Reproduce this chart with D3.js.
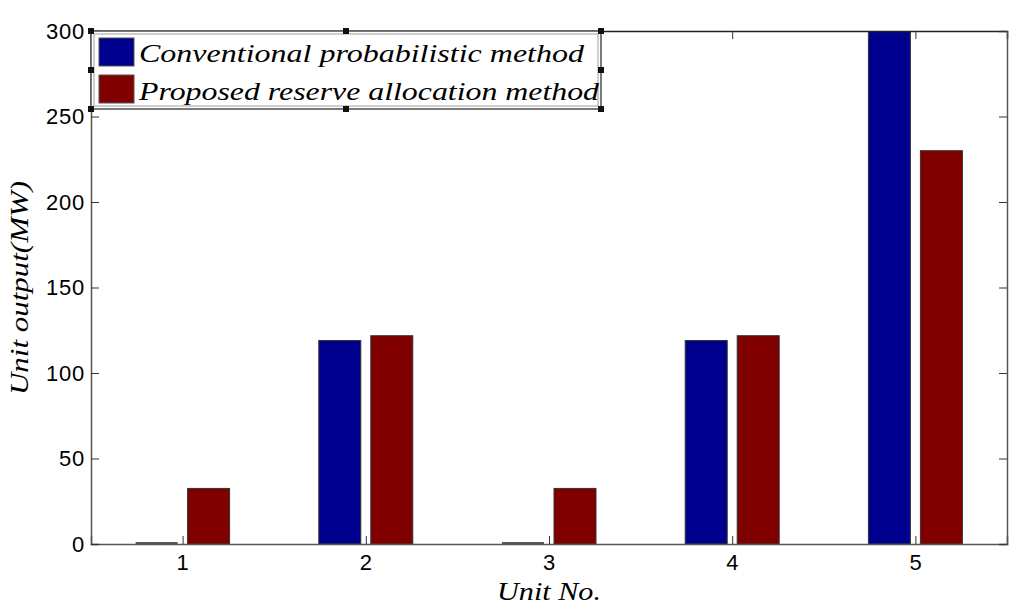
<!DOCTYPE html>
<html>
<head>
<meta charset="utf-8">
<script src="https://cdn.jsdelivr.net/npm/d3@7"></script>
<style>
  body { margin: 0; background: #fff; }
  .tick text { font-family: "Liberation Sans", Arial, sans-serif; font-size: 22px; letter-spacing: 0.8px; fill: #000; }
  .lbl { font-family: "Liberation Serif", "Times New Roman", serif; font-style: italic; font-size: 26px; fill: #000; }
</style>
</head>
<body>
<svg id="chart" width="1024" height="612"></svg>
<script>
const units = [1, 2, 3, 4, 5];
const conventional = [0, 119, 0, 119, 300];
const proposed = [32.5, 121.8, 32.5, 121.8, 230];
const yTicks = [0, 50, 100, 150, 200, 250, 300];
const seriesNames = ["Conventional probabilistic method", "Proposed reserve allocation method"];
const seriesColors = ["#00008f", "#800000"];

const margin = { top: 31, right: 17, bottom: 68, left: 91 };
const width = 1024 - margin.left - margin.right;
const height = 612 - margin.top - margin.bottom;

const svg = d3.select("#chart");
const g = svg.append("g")
	.attr("transform", `translate(${margin.left}, ${margin.top})`);

const x = d3.scaleLinear().domain([0.5, 5.5]).range([0, width]);
const y = d3.scaleLinear().domain([0, 300]).range([height, 0]);

const barW = 42;
const offset = 26;

g.append("defs").append("clipPath").attr("id", "clip")
	.append("rect").attr("width", width).attr("height", height + 1);

const bars = g.append("g").attr("clip-path", "url(#clip)");
[conventional, proposed].forEach((vals, s) => {
	bars.selectAll(null)
		.data(units)
		.enter()
		.append("rect")
		.attr("x", (d, i) => x(d) + (s === 0 ? -offset : offset) - barW / 2)
		.attr("y", (d, i) => y(vals[i]))
		.attr("width", barW)
		.attr("height", (d, i) => Math.max(0, y(0) - y(vals[i])))
		.attr("fill", seriesColors[s])
		.attr("stroke", "#333")
		.attr("stroke-width", 1);
});

// zero-height bars drawn as a line
units.forEach((d, i) => {
	if (conventional[i] === 0) {
		g.append("line")
			.attr("x1", x(d) - offset - barW / 2).attr("x2", x(d) - offset + barW / 2)
			.attr("y1", y(0) - 1).attr("y2", y(0) - 1)
			.attr("stroke", "#222").attr("stroke-width", 1.5);
	}
});

// axes
const xAxis = g.append("g")
	.attr("transform", `translate(0, ${height})`)
	.call(d3.axisBottom(x).tickValues(units).tickSize(-8).tickPadding(10).tickFormat(d3.format("d")));
const xTop = g.append("g")
	.call(d3.axisTop(x).tickValues(units).tickSize(-8).tickFormat(""));
const yAxis = g.append("g")
	.call(d3.axisLeft(y).tickValues(yTicks).tickSize(-8).tickPadding(6));
const yRight = g.append("g")
	.attr("transform", `translate(${width}, 0)`)
	.call(d3.axisRight(y).tickValues(yTicks).tickSize(-8).tickFormat(""));

[xAxis, xTop, yAxis, yRight].forEach(a => {
	a.select(".domain").attr("stroke", "#555").attr("stroke-width", 1.5);
	a.selectAll(".tick line").attr("stroke", "#333");
});
xTop.select(".domain").attr("stroke", "#222");

// axis labels
svg.append("text")
	.attr("class", "lbl")
	.attr("x", 497)
	.attr("y", 600)
	.attr("textLength", 104)
	.attr("lengthAdjust", "spacingAndGlyphs")
	.text("Unit No.");

svg.append("text")
	.attr("class", "lbl")
	.attr("transform", `translate(28, 395) rotate(-90)`)
	.attr("textLength", 214)
	.attr("lengthAdjust", "spacingAndGlyphs")
	.text("Unit output(MW)");

// legend
const lg = svg.append("g").attr("transform", "translate(91, 31)");
const lw = 510, lh = 78;
lg.append("rect")
	.attr("width", lw).attr("height", lh)
	.attr("fill", "#fff").attr("stroke", "#222").attr("stroke-width", 1.2);
lg.append("rect")
	.attr("x", 3).attr("y", 3).attr("width", lw - 6).attr("height", lh - 6)
	.attr("fill", "none").attr("stroke", "#888").attr("stroke-width", 0.8);

const textLens = [445, 460];
seriesNames.forEach((name, i) => {
	lg.append("rect")
		.attr("x", 8).attr("y", 7 + i * 37)
		.attr("width", 35).attr("height", 28)
		.attr("fill", seriesColors[i]).attr("stroke", "#555");
	lg.append("text")
		.attr("class", "lbl")
		.attr("x", 48).attr("y", 31 + i * 38)
		.attr("textLength", textLens[i])
		.attr("lengthAdjust", "spacingAndGlyphs")
		.text(name);
});

// selection handles
const handles = [[0, 0], [lw / 2, 0], [lw, 0], [0, lh / 2], [lw, lh / 2], [0, lh], [lw / 2, lh], [lw, lh]];
lg.selectAll(".h")
	.data(handles)
	.enter()
	.append("rect")
	.attr("x", d => d[0] - 3).attr("y", d => d[1] - 3)
	.attr("width", 6).attr("height", 6)
	.attr("fill", "#111");
</script>
</body>
</html>
